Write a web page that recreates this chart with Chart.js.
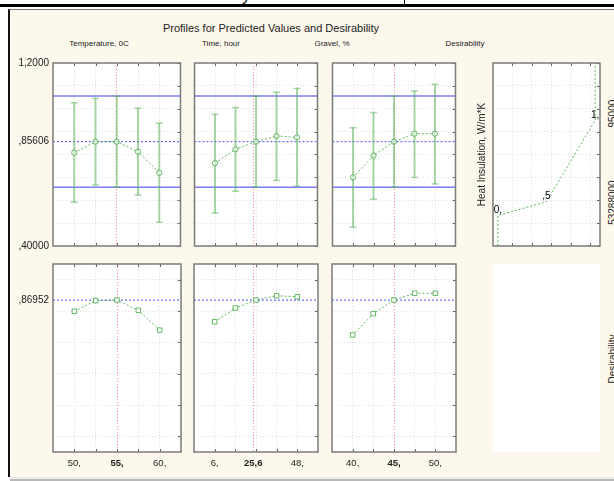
<!DOCTYPE html>
<html>
<head>
<meta charset="utf-8">
<title>Profiles for Predicted Values and Desirability</title>
<script src="https://cdn.jsdelivr.net/npm/chart.js@4.4.1/dist/chart.umd.min.js"></script>
<style>
  body { margin:0; width:614px; height:481px; position:relative; overflow:hidden; background:#fff;
         font-family:"Liberation Sans", Arial, sans-serif; color:#222; }
  .rule { position:absolute; background:#000; }
  #win { position:absolute; left:8px; top:9px; width:606px; height:468px; background:#fdf8ec;
         border-left:2px solid #111; border-top:1px solid #777; box-sizing:border-box; }
  #foot1 { position:absolute; left:10px; top:477px; width:604px; height:2px; background:#ececec; }
  #foot2 { position:absolute; left:10px; top:479px; width:604px; height:2px; background:#b8b8b8; }
  .txt { position:absolute; white-space:nowrap; line-height:1; transform:translate(-50%,-50%); }
  .rot { transform:translate(-50%,-50%) rotate(-90deg); }
  canvas { position:absolute; }
  #emptyBox { position:absolute; left:493px; top:264px; width:107px; height:188px; background:#fff; }
</style>
</head>
<body>
<div class="rule" style="left:0;top:4px;width:614px;height:3px"></div>
<div class="rule" style="left:404px;top:0;width:1px;height:6px"></div>
<div class="txt" style="left:246px;top:-4px;font-size:16px">y</div>
<div id="win"></div>
<div id="foot1"></div>
<div id="foot2"></div>
<div id="emptyBox"></div>

<div class="txt" style="left:271px;top:28px;font-size:11px">Profiles for Predicted Values and Desirability</div>
<div id="colTitles"></div>
<div class="txt rot" style="left:613px;top:115px;font-size:10px">,95000</div>
<div class="txt rot" style="left:613px;top:204px;font-size:10px">,53288000</div>
<div class="txt rot" style="left:613px;top:359px;font-size:10px">Desirability</div>

<script>
// factor levels on the x axes
const tempLevels = [50, 52.5, 55, 57.5, 60];
const timeLevels = [6, 16.5, 27, 37.5, 48];
const gravelLevels = [40, 42.5, 45, 47.5, 50];
const currentLevels = [55, 25.6, 45];
const factorTitles = ['Temperature, 0C', 'Time, hour', 'Gravel, %', 'Desirability'];

// predicted Heat Insulation, W/m*K with confidence limits
const tempPred = [0.808, 0.856, 0.856, 0.812, 0.720];
const tempLow = [0.591, 0.667, 0.657, 0.623, 0.504];
const tempHigh = [1.026, 1.046, 1.056, 1.002, 0.938];
const timePred = [0.762, 0.823, 0.856, 0.881, 0.875];
const timeLow = [0.544, 0.639, 0.657, 0.686, 0.661];
const timeHigh = [0.976, 1.005, 1.056, 1.072, 1.089];
const gravelPred = [0.700, 0.795, 0.856, 0.891, 0.891];
const gravelLow = [0.482, 0.604, 0.657, 0.700, 0.671];
const gravelHigh = [0.917, 0.984, 1.056, 1.078, 1.107];
const predCurrent = 0.85606;
const ciCurrent = [0.657, 1.056];
const predTicks = [0.4, 0.5, 0.6, 0.7, 0.8, 0.9, 1.0, 1.1, 1.2];
const predRange = [0.4, 1.2];

// desirability profiles
const tempDesir = [0.798, 0.866, 0.870, 0.804, 0.678];
const timeDesir = [0.731, 0.819, 0.870, 0.897, 0.891];
const gravelDesir = [0.647, 0.783, 0.870, 0.913, 0.913];
const desirCurrent = 0.86952;
const desirTicks = [0, 0.2, 0.4, 0.6, 0.8, 1.0];
const desirRange = [-0.1, 1.1];

// desirability function: desirability -> Heat Insulation
const desirFnLevels = [0, 0.5, 1];
const desirFnValues = [0.53288, 0.594, 0.95];
const desirFnRange = [-0.05, 1.05];
const desirFnGrid = [0.15, 0.35, 0.55, 0.75, 0.95];

const levelSets = [tempLevels, timeLevels, gravelLevels];
const predSets = [tempPred, timePred, gravelPred];
const lowSets = [tempLow, timeLow, gravelLow];
const highSets = [tempHigh, timeHigh, gravelHigh];
const desirSets = [tempDesir, timeDesir, gravelDesir];

// panel geometry
const cols = [{left:53, w:129}, {left:193, w:126}, {left:331, w:126}, {left:493, w:107}];
const rows = [{top:63, h:183}, {top:264, h:188}];
const titleX = [99, 221, 332, 465];

const FONT = '"Liberation Sans", Arial, sans-serif';
Chart.defaults.font.family = FONT;
Chart.defaults.color = '#222';

const GREEN = 'rgba(70,170,70,0.85)';
const GREEN_BAR = 'rgba(80,175,80,0.5)';
const GRID = '#e0e0e0';
const CUR_BLUE = 'rgba(60,60,255,0.9)';

function fmtNum(v, prec) {
  let s = prec ? v.toPrecision(prec) : String(v);
  if (Number.isInteger(v) && !prec) return s + ',';
  s = s.replace('.', ',');
  if (s.startsWith('0,') && s.length > 2) s = s.slice(1);
  return s;
}

const colTitles = document.getElementById('colTitles');
factorTitles.forEach((t, i) => {
  const d = document.createElement('div');
  d.className = 'txt';
  d.style.cssText = 'left:' + titleX[i] + 'px;top:44px;font-size:8px';
  d.textContent = t;
  colTitles.appendChild(d);
});

const framePlugin = {
  id: 'frame',
  beforeDraw(chart) {
    const {ctx, chartArea: a} = chart;
    ctx.save();
    ctx.fillStyle = '#fff';
    ctx.fillRect(a.left, a.top, a.right - a.left, a.bottom - a.top);
    ctx.restore();
  },
  afterDraw(chart, args, opts) {
    const {ctx, chartArea: a, scales} = chart;
    ctx.save();
    ctx.strokeStyle = '#666';
    ctx.lineWidth = 1;
    ctx.beginPath();
    (opts.marksX || []).forEach(v => {
      const px = Math.round(scales.x.getPixelForValue(v)) + 0.5;
      ctx.moveTo(px, a.top); ctx.lineTo(px, a.top + 3);
      ctx.moveTo(px, a.bottom); ctx.lineTo(px, a.bottom - 3);
    });
    (opts.marksY || []).forEach(v => {
      const py = Math.round(scales.y.getPixelForValue(v)) + 0.5;
      ctx.moveTo(a.right, py); ctx.lineTo(a.right - 3, py);
    });
    ctx.stroke();
    ctx.strokeStyle = '#7b7b7b';
    ctx.lineWidth = 1.5;
    ctx.strokeRect(a.left, a.top, a.right - a.left, a.bottom - a.top);
    ctx.restore();
  }
};

const knotPlugin = {
  id: 'knots',
  afterDatasetsDraw(chart, args, opts) {
    if (!opts.labels) return;
    const meta = chart.getDatasetMeta(0);
    const ctx = chart.ctx;
    ctx.save();
    ctx.font = '10px ' + FONT;
    ctx.fillStyle = '#000';
    ctx.textAlign = 'center';
    ctx.textBaseline = 'middle';
    opts.labels.forEach((lab, i) => {
      if (!lab) return;
      const p = meta.data[i];
      ctx.fillText(lab, p.x, p.y - 5);
    });
    ctx.restore();
  }
};

function xAxis(lv, range, cur, labels, height) {
  const vals = (cur === null || lv.includes(cur)) ? lv.slice() : lv.concat([cur]).sort((a, b) => a - b);
  return {
    type: 'linear', min: range[0], max: range[1],
    afterBuildTicks: s => { s.ticks = vals.map(v => ({value: v})); },
    afterFit: s => { s.height = height; s.paddingLeft = 0; s.paddingRight = 0; },
    grid: {
      drawTicks: false, lineWidth: 1,
      color: ctx => (ctx.tick && ctx.tick.value === cur) ? 'rgba(250,110,110,0.85)' : GRID
    },
    border: { display: false, dash: [1, 2] },
    ticks: {
      display: labels, padding: 6, autoSkip: false, maxRotation: 0, color: '#222',
      font: ctx => ({ size: 9.5, weight: (ctx.tick && ctx.tick.value === cur) ? 'bold' : 'normal' }),
      callback: v => (v === cur || v === lv[0] || v === lv[lv.length - 1]) ? fmtNum(v) : ''
    }
  };
}

function yAxis(tickVals, range, cur, labelVals, width, title) {
  const vals = cur === null ? tickVals.slice() : tickVals.concat([cur]).sort((a, b) => a - b);
  return {
    type: 'linear', min: range[0], max: range[1],
    afterBuildTicks: s => { s.ticks = vals.map(v => ({value: v})); },
    afterFit: s => { s.width = width; s.paddingTop = 0; s.paddingBottom = 0; },
    grid: {
      drawTicks: false, lineWidth: 1,
      color: ctx => (ctx.tick && ctx.tick.value === cur) ? 'rgba(0,0,0,0)' : GRID
    },
    border: { display: false, dash: [1, 2] },
    title: title ? { display: true, text: title, font: { size: 10 }, padding: 0, color: '#222' } : { display: false },
    ticks: {
      display: labelVals.length > 0, padding: 4, autoSkip: false, color: '#222', font: { size: 10 },
      callback: v => labelVals.includes(v) ? fmtNum(v, 5) : ''
    }
  };
}

function currentLine(range, v) {
  return { data: [{x: range[0], y: v}, {x: range[1], y: v}], borderColor: CUR_BLUE, borderWidth: 1,
           borderDash: [2, 2], pointRadius: 0, order: 3 };
}

function makePanel(col, row, L, T, R, B, config) {
  const cv = document.createElement('canvas');
  const w = col.w + L + R, h = row.h + T + B;
  cv.width = w; cv.height = h;
  cv.style.left = (col.left - L) + 'px';
  cv.style.top = (row.top - T) + 'px';
  cv.style.width = w + 'px';
  cv.style.height = h + 'px';
  document.body.appendChild(cv);
  config.options.layout = { padding: { top: T, right: R, left: 0, bottom: 0 } };
  config.options.animation = false;
  config.options.responsive = false;
  config.options.events = [];
  config.plugins = [framePlugin, knotPlugin];
  return new Chart(cv, config);
}

// top row: predicted values with error bars
levelSets.forEach((lv, c) => {
  const step = lv[1] - lv[0];
  const range = [lv[0] - step, lv[lv.length - 1] + step];
  const pred = predSets[c], lo = lowSets[c], hi = highSets[c];
  const bars = [];
  lv.forEach((x, i) => { bars.push({x, y: lo[i]}, {x, y: hi[i]}, {x, y: null}); });
  const caps = lv.map((x, i) => ({x, y: lo[i]})).concat(lv.map((x, i) => ({x, y: hi[i]})));
  const datasets = [
    { data: lv.map((x, i) => ({x, y: pred[i]})), borderColor: GREEN, borderWidth: 1, borderDash: [2, 2],
      pointRadius: 2.6, pointStyle: 'circle', pointBackgroundColor: 'rgba(255,255,255,0.6)', pointBorderColor: GREEN,
      pointBorderWidth: 1, order: 0 },
    { data: bars, borderColor: GREEN_BAR, borderWidth: 2, pointRadius: 0, spanGaps: false, order: 1 },
    { data: caps, showLine: false, pointStyle: 'line', pointRadius: 3.5, pointBorderColor: GREEN_BAR,
      pointBorderWidth: 1.5, order: 1 },
    currentLine(range, predCurrent)
  ];
  ciCurrent.forEach(v => {
    datasets.push({ data: [{x: range[0], y: v}, {x: range[1], y: v}], borderColor: 'rgba(100,100,255,0.85)',
      borderWidth: 1.5, pointRadius: 0, order: 2 });
  });
  makePanel(cols[c], rows[0], c === 0 ? 53 : 4, 6, 4, 7, {
    type: 'line',
    data: { datasets },
    options: {
      plugins: { legend: { display: false }, tooltip: { enabled: false },
                 frame: { marksX: lv, marksY: predTicks } },
      scales: {
        x: xAxis(lv, range, currentLevels[c], false, 7),
        y: yAxis(predTicks, predRange, predCurrent, c === 0 ? [predRange[0], predCurrent, predRange[1]] : [], c === 0 ? 53 : 4)
      }
    }
  });
});

// top right: desirability function
const fnData = [{x: desirFnLevels[0], y: predRange[0]}]
  .concat(desirFnLevels.map((x, i) => ({x, y: desirFnValues[i]})))
  .concat([{x: desirFnLevels[desirFnLevels.length - 1], y: predRange[1]}]);
makePanel(cols[3], rows[0], 17, 6, 4, 7, {
  type: 'line',
  data: { datasets: [{ data: fnData, borderColor: GREEN, borderWidth: 1, borderDash: [2, 2], pointRadius: 0 }] },
  options: {
    plugins: { legend: { display: false }, tooltip: { enabled: false },
               frame: { marksX: desirFnGrid, marksY: predTicks },
               knots: { labels: [null].concat(desirFnLevels.map(v => fmtNum(v))).concat([null]) } },
    scales: {
      x: xAxis(desirFnGrid, desirFnRange, null, false, 7),
      y: yAxis(predTicks, predRange, null, [], 17, 'Heat Insulation, W/m*K')
    }
  }
});

// bottom row: desirability profiles
levelSets.forEach((lv, c) => {
  const step = lv[1] - lv[0];
  const range = [lv[0] - step, lv[lv.length - 1] + step];
  const d = desirSets[c];
  makePanel(cols[c], rows[1], c === 0 ? 53 : 4, 6, 4, 26, {
    type: 'line',
    data: { datasets: [
      { data: lv.map((x, i) => ({x, y: d[i]})), borderColor: GREEN, borderWidth: 1,
        borderDash: [2, 2], pointRadius: 3.2, pointStyle: 'rect', pointBackgroundColor: '#fff',
        pointBorderColor: GREEN, pointBorderWidth: 1, order: 0 },
      currentLine(range, desirCurrent)
    ] },
    options: {
      plugins: { legend: { display: false }, tooltip: { enabled: false },
                 frame: { marksX: lv, marksY: desirTicks } },
      scales: {
        x: xAxis(lv, range, currentLevels[c], true, 26),
        y: yAxis(desirTicks, desirRange, desirCurrent, c === 0 ? [desirCurrent] : [], c === 0 ? 53 : 4)
      }
    }
  });
});
</script>
</body>
</html>
